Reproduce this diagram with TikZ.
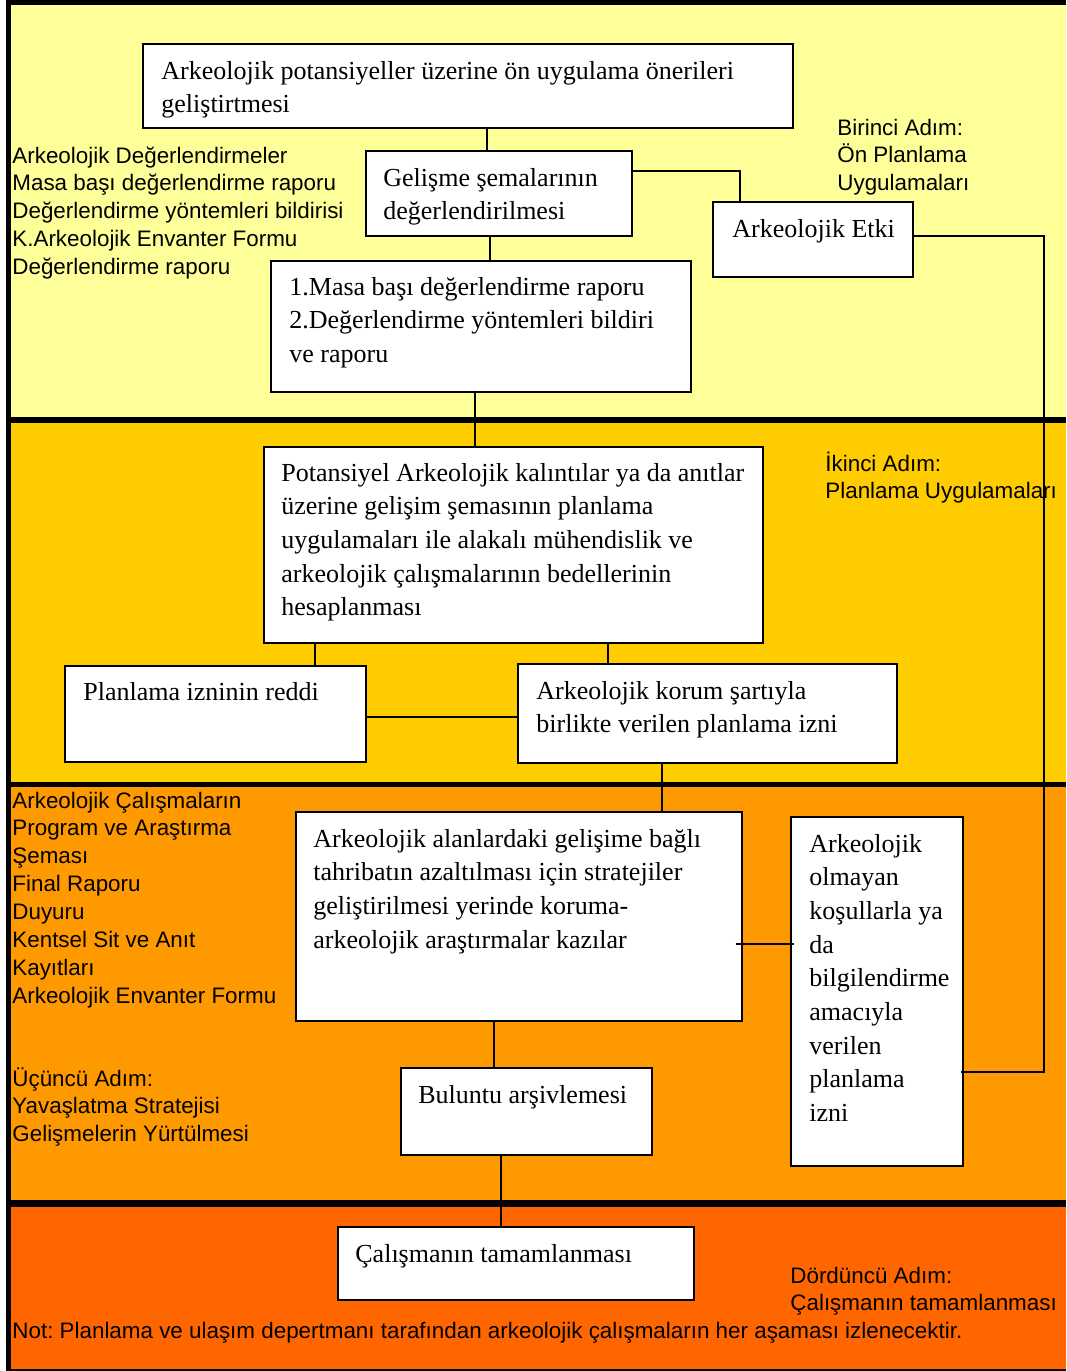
\documentclass[tikz,border=0pt]{standalone}
\usepackage{fontspec}
\setmainfont{Liberation Serif}
\setsansfont{Liberation Sans}
\usetikzlibrary{fit}
\definecolor{bandA}{HTML}{FFFF99}
\definecolor{bandB}{HTML}{FFCC00}
\definecolor{bandC}{HTML}{FF9900}
\definecolor{bandD}{HTML}{FF6600}
\frenchspacing
\begin{document}
\begin{tikzpicture}[x=0.5pt,y=-0.5pt,
  box/.style={draw=black, line width=0.8pt, fill=white, inner sep=0pt},
  btxt/.style={font=\fontsize{13}{16.85}\selectfont, align=left, inner sep=0pt, anchor=base west},
  stxt/.style={font=\sffamily\fontsize{11.2}{13.95}\selectfont, align=left, inner sep=0pt, anchor=base west},
  conn/.style={line width=0.8pt}]
\useasboundingbox (0,0) rectangle (1066,1371);
% background bands
\fill[white] (0,0) rectangle (1066,1371);
\fill[black] (6,0) rectangle (1066,1371);
\fill[bandA] (11,5) rectangle (1066,417);
\fill[bandB] (11,423) rectangle (1066,782);
\fill[bandC] (11,787) rectangle (1066,1200);
\fill[bandD] (11,1207) rectangle (1066,1369);

% boxes
\node[box, fit={(143,44)(793,128)}] (b1) {};
\node[box, fit={(366,151)(632,236)}] (b2) {};
\node[box, fit={(713,202)(913,277)}] (etki) {};
\node[box, fit={(271,261)(691,392)}] (b4) {};
\node[box, fit={(264,447)(763,643)}] (b5) {};
\node[box, fit={(65,666)(366,762)}] (b6) {};
\node[box, fit={(518,664)(897,763)}] (b7) {};
\node[box, fit={(296,812)(742,1021)}] (b8) {};
\node[box, fit={(791,817)(963,1166)}] (b9) {};
\node[box, fit={(401,1068)(652,1155)}] (b10) {};
\node[box, fit={(338,1227)(694,1300)}] (b11) {};

% box texts (anchor = baseline of the last line)
\node[btxt] (t1) at (161,112.7) {Arkeolojik potansiyeller üzerine ön uygulama önerileri\\geliştirtmesi};
\node[btxt] (t2) at (383,219.7) {Gelişme şemalarının\\değerlendirilmesi};
\node[btxt] (t3) at (732,237) {Arkeolojik Etki};
\node[btxt] (t4) at (289,362.4) {1.Masa başı değerlendirme raporu\\2.Değerlendirme yöntemleri bildiri\\ve raporu};
\node[btxt] (t5) at (281,615.8) {Potansiyel Arkeolojik kalıntılar ya da anıtlar\\üzerine gelişim şemasının planlama\\uygulamaları ile alakalı mühendislik ve\\arkeolojik çalışmalarının bedellerinin\\hesaplanması};
\node[btxt] (t6) at (83,700) {Planlama izninin reddi};
\node[btxt] (t7) at (536,732.7) {Arkeolojik korum şartıyla\\birlikte verilen planlama izni};
\node[btxt] (t8) at (313,948.1) {Arkeolojik alanlardaki gelişime bağlı\\tahribatın azaltılması için stratejiler\\geliştirilmesi yerinde koruma-\\arkeolojik araştırmalar kazılar};
\node[btxt] (t9) at (809,1121.6) {Arkeolojik\\olmayan\\koşullarla ya\\da\\bilgilendirme\\amacıyla\\verilen\\planlama\\izni};
\node[btxt] (t10) at (418,1103) {Buluntu arşivlemesi};
\node[btxt] (t11) at (355,1262) {Çalışmanın tamamlanması};

% side texts
\node[stxt] (s1) at (12,274.6) {Arkeolojik Değerlendirmeler\\Masa başı değerlendirme raporu\\Değerlendirme yöntemleri bildirisi\\K.Arkeolojik Envanter Formu\\Değerlendirme raporu};
\node[stxt] (s2) at (837,190.8) {Birinci Adım:\\Ön Planlama\\Uygulamaları};
\node[stxt] (s3) at (825,498.9) {İkinci Adım:\\Planlama Uygulamaları};
\node[stxt] (s4) at (12,1003.3) {Arkeolojik Çalışmaların\\Program ve Araştırma\\Şeması\\Final Raporu\\Duyuru\\Kentsel Sit ve Anıt\\Kayıtları\\Arkeolojik Envanter Formu};
\node[stxt] (s5) at (12,1141.8) {Üçüncü Adım:\\Yavaşlatma Stratejisi\\Gelişmelerin Yürtülmesi};
\node[stxt] (s6) at (790,1310.9) {Dördüncü Adım:\\Çalışmanın tamamlanması};
\node[stxt] (s7) at (12,1338) {Not: Planlama ve ulaşım depertmanı tarafından arkeolojik çalışmaların her aşaması izlenecektir.};

% connectors
\draw[conn] (487,0 |- b1.south) -- (487,0 |- b2.north);
\draw[conn] (b2.east |- 0,171) -| (740,0 |- etki.north);
\draw[conn] (490,0 |- b2.south) -- (490,0 |- b4.north);
\draw[conn] (475,0 |- b4.south) -- (475,0 |- b5.north);
\draw[conn] (315,0 |- b5.south) -- (315,0 |- b6.north);
\draw[conn] (608,0 |- b5.south) -- (608,0 |- b7.north);
\draw[conn] (b6.east |- 0,717) -- (b7.west |- 0,717);
\draw[conn] (662,0 |- b7.south) -- (662,0 |- b8.north);
\draw[conn] ([xshift=-3.5pt]b8.east |- 0,944) -- ([xshift=2pt]b9.west |- 0,944);
\draw[conn] (etki.east |- 0,236) -| (1044,1072) -- ([xshift=-1.5pt]b9.east |- 0,1072);
\draw[conn] (494,0 |- b8.south) -- (494,0 |- b10.north);
\draw[conn] (501,0 |- b10.south) -- (501,0 |- b11.north);
\end{tikzpicture}
\end{document}
